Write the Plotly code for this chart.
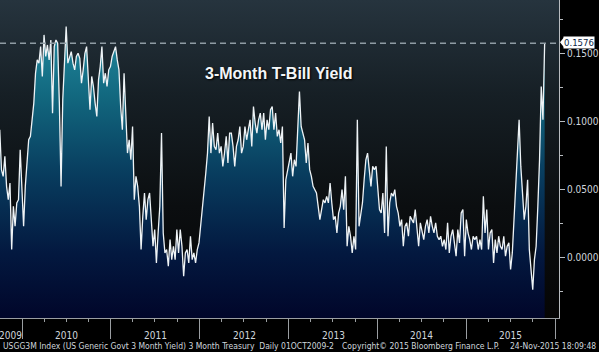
import plotly.graph_objects as go
import pandas as pd

# ---------------- data ----------------
start_date = "2009-10-01"   # weekly observations from here

yields = [
    # Oct 2009 - Dec 2010
    0.0939, 0.0645, 0.0596, 0.0743, 0.0522, 0.0424, 0.0547, 0.0057, 0.0375, 0.0228,
    0.0400, 0.0424, 0.0792, 0.0473, 0.0228, 0.0522, 0.0694, 0.0865, 0.0890, 0.1012,
    0.1135, 0.1355, 0.1453, 0.1429, 0.1551, 0.1331, 0.1637, 0.1478, 0.1563, 0.1453,
    0.1600, 0.1061, 0.1551, 0.1600, 0.1576, 0.1135, 0.0522, 0.1159, 0.1478, 0.1698,
    0.1429, 0.1478, 0.1514, 0.1429, 0.1380, 0.1478, 0.1502, 0.1465, 0.1282, 0.1380,
    0.1502, 0.1551, 0.1257, 0.1086, 0.1331, 0.1257, 0.1135, 0.1037, 0.1306, 0.1404,
    0.1551, 0.1282, 0.1355, 0.1257, 0.1380,
    # 2011 - early 2012
    0.1404, 0.1478, 0.1514, 0.1551, 0.1453, 0.1380, 0.1110, 0.0939, 0.1355, 0.1012,
    0.0767, 0.0865, 0.0718, 0.0963, 0.0424, 0.0596, 0.0522, 0.0375, 0.0057, 0.0302,
    0.0473, 0.0277, 0.0424, 0.0473, 0.0228, 0.0081, 0.0204, -0.0041, 0.0179, 0.0375,
    0.0914, 0.0179, 0.0032, 0.0057, -0.0066, 0.0130, -0.0017, 0.0081, -0.0017, 0.0204,
    0.0032, 0.0204, 0.0081, -0.0140, 0.0032, 0.0057, -0.0041, 0.0155, -0.0017, 0.0032,
    -0.0041, 0.0057, 0.0106, 0.0228, 0.0351, 0.0449, 0.0620, 0.0767, 0.1037, 0.0767,
    0.0988, 0.0816, 0.0792, 0.0914, 0.0767,
    # 2012 - early 2013
    0.0816, 0.0669, 0.0767, 0.0890, 0.0694, 0.0914, 0.0914, 0.0816, 0.0669, 0.0816,
    0.0865, 0.0963, 0.0767, 0.0816, 0.0963, 0.0865, 0.0939, 0.1012, 0.0816, 0.1110,
    0.0988, 0.0914, 0.1012, 0.1061, 0.0939, 0.1061, 0.0865, 0.1012, 0.0939, 0.1086,
    0.1110, 0.0939, 0.1061, 0.0890, 0.0939, 0.0841, 0.0963, 0.0216, 0.0571, 0.0645,
    0.0694, 0.0767, 0.0596, 0.0718, 0.0669, 0.0963, 0.1220, 0.0963, 0.0914, 0.0865,
    0.0694, 0.0841, 0.0645, 0.0596, 0.0522, 0.0498, 0.0473, 0.0375, 0.0277, 0.0351,
    0.0424, 0.0400, 0.0449, 0.0400,
    # 2013 - early 2014
    0.0547, 0.0400, 0.0277, 0.0302, 0.0179, 0.0326, 0.0375, 0.0498, 0.0351, 0.0596,
    0.0081, 0.0228, 0.0155, 0.0032, 0.0155, 0.0057, 0.1012, 0.0228, 0.0326, 0.0400,
    0.0571, 0.0718, 0.0767, 0.0645, 0.0522, 0.0669, 0.0645, 0.0669, 0.0473, 0.0351,
    0.0326, 0.0473, 0.0179, 0.0816, 0.0155, 0.0400, 0.0473, 0.0449, 0.0498, 0.0375,
    0.0326, 0.0228, 0.0277, 0.0081, 0.0228, 0.0253, 0.0155, 0.0302, 0.0277, 0.0253,
    0.0351, 0.0228, 0.0081, 0.0253, 0.0179, 0.0130, 0.0228, 0.0277, 0.0179, 0.0302,
    0.0228, 0.0179, 0.0253, 0.0155, 0.0130,
    # 2014 - Nov 2015
    0.0155, 0.0081, 0.0130, 0.0057, 0.0253, 0.0032, 0.0155, 0.0204, 0.0081, 0.0008,
    0.0204, 0.0106, 0.0326, 0.0351, 0.0008, 0.0277, 0.0179, 0.0130, 0.0057, 0.0155,
    0.0130, 0.0155, 0.0057, 0.0130, 0.0057, 0.0449, 0.0179, 0.0351, 0.0057, 0.0179,
    0.0204, -0.0041, 0.0130, 0.0032, 0.0155, 0.0081, 0.0057, 0.0155, 0.0008, 0.0081,
    0.0106, -0.0090, 0.0032, 0.0277, 0.0522, 0.0718, 0.1012, 0.0669, 0.0498, 0.0277,
    0.0375, 0.0571, 0.0057, -0.0066, -0.0238, -0.0017, 0.0081, 0.0375, 0.0718, 0.1257,
    0.1012, 0.1576,
]

dates = pd.date_range(start_date, periods=len(yields), freq="7D")
last_value = yields[-1]

x_range = ["2009-10-02", "2016-01-17"]
y_range = [-0.0447, 0.1894]

y_tickvals = [0.0, 0.05, 0.10, 0.15]
y_ticktext = ["0.0000", "0.0500", "0.1000", "0.1500"]

year_labels = ["2009", "2010", "2011", "2012", "2013", "2014", "2015"]
year_label_dates = ["2009-11-13", "2010-07-02", "2011-07-02", "2012-07-02",
                    "2013-07-02", "2014-07-02", "2015-07-02"]

title_text = "3-Month T-Bill Yield"
footer_left = "USGG3M Index (US Generic Govt 3 Month Yield) 3 Month Treasury  Daily 01OCT2009-2"
footer_mid = "Copyright\u00a9 2015 Bloomberg Finance L.P."
footer_right = "24-Nov-2015 18:09:48"

# ---------------- styling ----------------
W, H = 599, 352
ML, MR, MT, MB = 0, 40, 0, 34
PW, PH = W - ML - MR, H - MT - MB
FONT = "Liberation Sans Narrow, Arial Narrow, DejaVu Sans Condensed, Liberation Sans, Arial"
AX_COLOR = "#9a9ea2"
TXT_COLOR = "#cfd6dc"

fig = go.Figure()

# plot-area background gradient
fig.add_trace(go.Scatter(
    x=[x_range[0], x_range[1], x_range[1], x_range[0], x_range[0]],
    y=[y_range[0], y_range[0], y_range[1], y_range[1], y_range[0]],
    mode="lines", line=dict(width=0), fill="toself",
    fillgradient=dict(type="vertical", start=y_range[0], stop=y_range[1],
                      colorscale=[[0, "#050505"], [0.35, "#0b0e10"],
                                  [0.7, "#161f25"], [1, "#26343e"]]),
    hoverinfo="skip", showlegend=False))

# baseline for the area fill (bottom of axis)
fig.add_trace(go.Scatter(
    x=dates, y=[y_range[0]] * len(dates), mode="lines",
    line=dict(width=0), hoverinfo="skip", showlegend=False))

# the yield series with gradient area
fig.add_trace(go.Scatter(
    x=dates, y=yields, mode="lines",
    line=dict(color="#eef3f6", width=1.3),
    fill="tonexty",
    fillgradient=dict(type="vertical", start=y_range[0], stop=y_range[1],
                      colorscale=[[0, "#01062a"], [0.2, "#03183f"],
                                  [0.45, "#083c5e"], [0.7, "#12687f"],
                                  [1, "#2898ac"]]),
    showlegend=False))

# dashed last-value line
fig.add_shape(type="line", xref="paper", x0=0, x1=1, yref="y",
              y0=last_value, y1=last_value,
              line=dict(color="#8f9ca4", width=1.5, dash="6px,4px"))

# pointer of the last-value label
ly = 1 - (y_range[1] - last_value) / (y_range[1] - y_range[0]) + 1 / PH
fig.add_shape(type="path", xref="paper", yref="paper",
              path=f"M {1 + 1/PW},{ly} L {1 + 5/PW},{ly + 5/PH} L {1 + 5/PW},{ly - 5/PH} Z",
              fillcolor="white", line=dict(width=0))

annotations = []
annotations.append(dict(x=1, xref="paper", y=last_value, yref="y",
                        xanchor="left", yanchor="middle", xshift=4, yshift=1,
                        text=f"{last_value:.4f}", showarrow=False,
                        bgcolor="white", borderpad=0,
                        font=dict(family=FONT, size=9.5, color="#0b1f45")))

annotations.append(dict(x=278.5 / PW, xref="paper", y=1 - 73 / PH, yref="paper",
                        xanchor="center", yanchor="middle", text=title_text,
                        showarrow=False,
                        font=dict(family="Liberation Sans, Arial", size=16,
                                  color="#f4f6f8", weight="bold",
                                  shadow="1px 1px 2px #000")))

for lab, d in zip(year_labels, year_label_dates):
    annotations.append(dict(x=d, xref="x", y=-17 / PH, yref="paper",
                            xanchor="center", yanchor="middle", text=lab,
                            showarrow=False,
                            font=dict(family=FONT, size=10, color=TXT_COLOR)))

annotations.append(dict(x=1 / PW, xref="paper", y=-28 / PH, yref="paper",
                        xanchor="left", yanchor="middle", text=footer_left,
                        showarrow=False,
                        font=dict(family=FONT, size=8.5, color=TXT_COLOR)))
annotations.append(dict(x=340 / PW, xref="paper", y=-28 / PH, yref="paper",
                        xanchor="left", yanchor="middle", text=footer_mid,
                        showarrow=False,
                        font=dict(family=FONT, size=8.5, color=TXT_COLOR)))
annotations.append(dict(x=598 / PW, xref="paper", y=-28 / PH, yref="paper",
                        xanchor="right", yanchor="middle", text=footer_right,
                        showarrow=False,
                        font=dict(family=FONT, size=8.5, color=TXT_COLOR)))

fig.update_layout(
    width=W, height=H,
    margin=dict(l=ML, r=MR, t=MT, b=MB, pad=0),
    paper_bgcolor="#000000", plot_bgcolor="#000000",
    showlegend=False,
    annotations=annotations,
    xaxis=dict(type="date", range=x_range, showgrid=False, zeroline=False,
               showline=True, linecolor=AX_COLOR, linewidth=1,
               tick0="2010-01-01", dtick="M12", ticks="outside", ticklen=20,
               tickcolor=AX_COLOR, tickwidth=1, showticklabels=False,
               minor=dict(tick0="2010-01-01", dtick="M3", ticks="outside",
                          ticklen=3, tickcolor=AX_COLOR, showgrid=False)),
    yaxis=dict(side="right", range=y_range, showgrid=False, zeroline=False,
               showline=True, linecolor="#b8bcc0", linewidth=1,
               tickmode="array", tickvals=y_tickvals, ticktext=y_ticktext,
               ticks="outside", ticklen=5, tickcolor="#b8bcc0",
               tickfont=dict(family=FONT, size=10, color=TXT_COLOR),
               minor=dict(tick0=0, dtick=0.025, ticks="outside", ticklen=3,
                          tickcolor="#b8bcc0", showgrid=False)),
)

fig.write_html("out.html", config={"displayModeBar": False})
